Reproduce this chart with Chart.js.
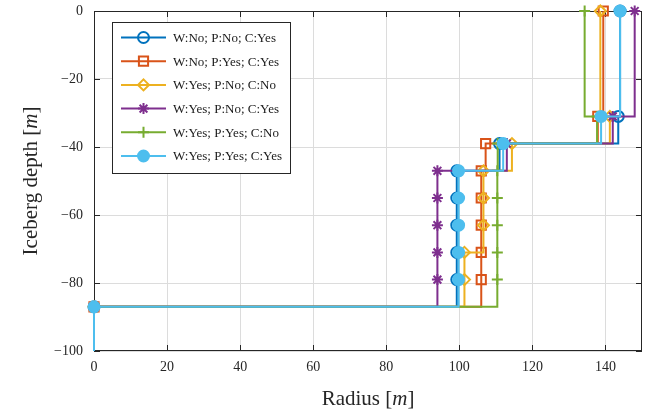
<!DOCTYPE html>
<html>
<head>
<meta charset="utf-8">
<script src="https://cdn.jsdelivr.net/npm/chart.js@4.4.0/dist/chart.umd.min.js"></script>
<style>
  body { margin: 0; background: #fff; }
  canvas { display: block; }
</style>
</head>
<body>
<canvas id="depthChart" width="655" height="410"></canvas>
<script>
/* === DATA === */
const depthLevels = [-100, -87, -79, -71, -63, -55, -47, -39, -31, 0];

const seriesLabels = [
  "W:No; P:No; C:Yes",
  "W:No; P:Yes; C:Yes",
  "W:Yes; P:No; C:No",
  "W:Yes; P:No; C:Yes",
  "W:Yes; P:Yes; C:No",
  "W:Yes; P:Yes; C:Yes"
];

// radius per depth level (same order as depthLevels)
const radiusNoNoYes    = [0, 0, 99.3, 99.3, 99.3, 99.3, 99.3, 111.0, 143.5, 144.0];
const radiusNoYesYes   = [0, 0, 106.0, 106.0, 106.0, 106.0, 106.0, 107.2, 137.9, 139.4];
const radiusYesNoNo    = [0, 0, 101.4, 101.4, 106.6, 106.6, 106.6, 114.4, 141.2, 138.6];
const radiusYesNoYes   = [0, 0, 94.0, 94.0, 94.0, 94.0, 94.0, 113.0, 142.0, 148.0];
const radiusYesYesNo   = [0, 0, 110.4, 110.4, 110.4, 110.4, 110.4, 110.5, 137.7, 134.3];
const radiusYesYesYes  = [0, 0, 99.8, 99.8, 99.8, 99.8, 99.8, 112.0, 138.8, 144.0];

const xTickStep = 20;
const yTickStep = 20;

/* === STYLE === */
const seriesRadii = [radiusNoNoYes, radiusNoYesYes, radiusYesNoNo, radiusYesNoYes, radiusYesYesNo, radiusYesYesYes];
const seriesColors = ["#0072BD", "#D95319", "#EDB120", "#7E2F8E", "#77AC30", "#4DBEEE"];
const seriesMarkers = ["circle", "rect", "rectRot", "star", "cross", "circle"];
const markerSizes = [5.5, 6.5, 5.5, 5.5, 5.5, 5.5];
const markerFills = ["rgba(0,0,0,0)", "rgba(0,0,0,0)", "rgba(0,0,0,0)", "rgba(0,0,0,0)", "rgba(0,0,0,0)", "#4DBEEE"];

const axisColor = "#262626";
const gridColor = "#dcdcdc";
const serif = "'Liberation Serif', 'DejaVu Serif', serif";

const datasets = seriesLabels.map((label, i) => ({
  label: label,
  data: depthLevels.map((d, k) => ({ x: seriesRadii[i][k], y: d })),
  borderColor: seriesColors[i],
  backgroundColor: markerFills[i],
  pointBackgroundColor: markerFills[i],
  pointBorderColor: seriesColors[i],
  pointStyle: seriesMarkers[i],
  // first point (bottom of the profile) has no marker
  pointRadius: depthLevels.map((d, k) => (k === 0 ? 0 : markerSizes[i])),
  pointBorderWidth: 2,
  borderWidth: 2,
  stepped: "before",
  fill: false,
  clip: false,
  order: seriesLabels.length - i
}));

function fmtMinus(v) {
  return v < 0 ? "\u2212" + Math.abs(v) : String(v);
}

/* === AXES BOX + INNER TICKS === */
const boxPlugin = {
  id: "boxPlugin",
  beforeDatasetsDraw(chart) {
    const { ctx, chartArea: a, scales } = chart;
    ctx.save();
    ctx.strokeStyle = axisColor;
    ctx.lineWidth = 1;
    ctx.strokeRect(a.left + 0.5, a.top + 0.5, a.right - a.left - 1, a.bottom - a.top - 1);

    const tl = 6;
    ctx.beginPath();
    scales.x.ticks.forEach(t => {
      const px = Math.round(scales.x.getPixelForValue(t.value)) + 0.5;
      ctx.moveTo(px, a.bottom); ctx.lineTo(px, a.bottom - tl);
      ctx.moveTo(px, a.top); ctx.lineTo(px, a.top + tl);
    });
    scales.y.ticks.forEach(t => {
      const py = Math.round(scales.y.getPixelForValue(t.value)) + 0.5;
      ctx.moveTo(a.left, py); ctx.lineTo(a.left + tl, py);
      ctx.moveTo(a.right, py); ctx.lineTo(a.right - tl, py);
    });
    ctx.stroke();
    ctx.restore();
  }
};

/* === AXIS TITLES (italic m) + LEGEND === */
function drawMixedTitle(ctx, parts, cx, cy, rotate) {
  ctx.save();
  ctx.translate(cx, cy);
  if (rotate) ctx.rotate(-Math.PI / 2);
  ctx.fillStyle = axisColor;
  ctx.textBaseline = "alphabetic";
  ctx.textAlign = "left";
  let total = 0;
  parts.forEach(p => {
    ctx.font = (p.italic ? "italic " : "") + "21px " + serif;
    p.w = ctx.measureText(p.text).width;
    total += p.w;
  });
  let x = -total / 2;
  parts.forEach(p => {
    ctx.font = (p.italic ? "italic " : "") + "21px " + serif;
    ctx.fillText(p.text, x, 0);
    x += p.w;
  });
  ctx.restore();
}

const overlayPlugin = {
  id: "overlayPlugin",
  afterDraw(chart) {
    const ctx = chart.ctx;
    const a = chart.chartArea;

    drawMixedTitle(ctx, [{ text: "Radius [" }, { text: "m", italic: true }, { text: "]" }],
      (a.left + a.right) / 2, 405, false);
    drawMixedTitle(ctx, [{ text: "Iceberg depth [" }, { text: "m", italic: true }, { text: "]" }],
      37, (a.top + a.bottom) / 2, true);

    // legend box
    const lx = 112, ly = 22, lw = 178, lh = 151;
    ctx.save();
    ctx.fillStyle = "#fff";
    ctx.fillRect(lx, ly, lw, lh);
    ctx.strokeStyle = axisColor;
    ctx.lineWidth = 1;
    ctx.strokeRect(lx + 0.5, ly + 0.5, lw, lh);

    chart.data.datasets.forEach((ds, i) => {
      const y = 37.5 + i * 23.7;
      ctx.strokeStyle = ds.borderColor;
      ctx.lineWidth = 2;
      ctx.beginPath();
      ctx.moveTo(121, y);
      ctx.lineTo(166, y);
      ctx.stroke();

      ctx.fillStyle = ds.pointBackgroundColor;
      ctx.strokeStyle = ds.pointBorderColor;
      Chart.helpers.drawPoint(ctx, {
        pointStyle: ds.pointStyle,
        radius: markerSizes[i],
        rotation: 0,
        borderWidth: 2
      }, 143.5, y);

      ctx.fillStyle = "#1a1a1a";
      ctx.font = "13px " + serif;
      ctx.textBaseline = "middle";
      ctx.textAlign = "left";
      ctx.fillText(ds.label, 173, y + 1);
    });
    ctx.restore();
  }
};

/* === CHART === */
new Chart(document.getElementById("depthChart"), {
  type: "line",
  data: { datasets: datasets },
  options: {
    responsive: false,
    animation: false,
    layout: { padding: { left: 0, right: 13, top: 11, bottom: 0 } },
    plugins: {
      legend: { display: false },
      tooltip: { enabled: false },
      title: { display: false }
    },
    scales: {
      x: {
        type: "linear",
        min: 0,
        max: 150,
        afterFit: s => { s.height = 59; s.paddingLeft = 0; s.paddingRight = 0; },
        border: { display: false },
        grid: { color: gridColor, lineWidth: 1, drawTicks: false },
        ticks: {
          stepSize: xTickStep,
          includeBounds: false,
          padding: 8,
          color: axisColor,
          font: { family: serif, size: 14 },
          callback: v => fmtMinus(v)
        }
      },
      y: {
        type: "linear",
        min: -100,
        max: 0,
        afterFit: s => { s.width = 94; s.paddingTop = 0; s.paddingBottom = 0; },
        border: { display: false },
        grid: { color: gridColor, lineWidth: 1, drawTicks: false },
        ticks: {
          stepSize: yTickStep,
          padding: 11,
          color: axisColor,
          font: { family: serif, size: 14 },
          callback: v => fmtMinus(v)
        }
      }
    }
  },
  plugins: [boxPlugin, overlayPlugin]
});
</script>
</body>
</html>
